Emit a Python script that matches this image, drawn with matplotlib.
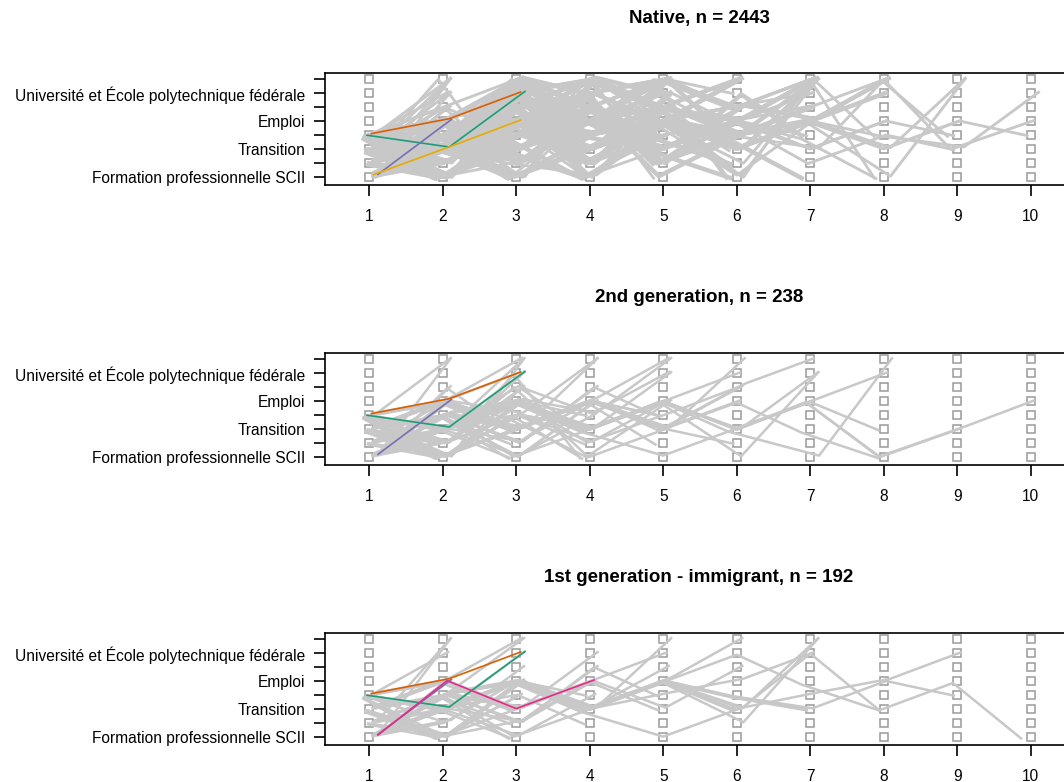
import matplotlib
matplotlib.use("Agg")
import matplotlib.pyplot as plt
import numpy as np

plt.rcParams["font.family"] = ["Liberation Sans", "DejaVu Sans"]

# etats (du bas vers le haut), seuls 1 sur 2 sont etiquetes comme dans R
state_labels = ["Formation professionnelle SCII", "", "Transition", "",
                "Emploi", "", "Université et École polytechnique fédérale", ""]
positions = list(range(1, 11))

titles = ["Native, n = 2443", "2nd generation, n = 238",
          "1st generation - immigrant, n = 192"]

# sequences (DSS) : chaque chiffre = etat, avec la frequence (epaisseur)
native_seqs = [
    ("13", 4), ("14", 3), ("15", 3), ("12", 2), ("17", 1), ("18", 1),
    ("23", 2), ("24", 2), ("25", 2), ("21", 2), ("28", 1), ("26", 1),
    ("31", 3), ("32", 2), ("34", 2), ("35", 3), ("36", 1), ("37", 1), ("38", 1),
    ("41", 2), ("42", 1), ("43", 3), ("45", 3), ("46", 1), ("47", 1), ("48", 1),
    ("135", 4), ("137", 3), ("138", 3), ("131", 2), ("134", 2), ("145", 3),
    ("148", 2), ("153", 3), ("158", 2), ("143", 2), ("126", 2), ("162", 1),
    ("235", 2), ("238", 2), ("241", 2), ("247", 1), ("253", 2), ("218", 2),
    ("315", 3), ("318", 2), ("325", 2), ("341", 2), ("358", 2), ("357", 1), ("364", 1),
    ("415", 3), ("418", 2), ("438", 3), ("435", 2), ("457", 2), ("453", 2), ("468", 1),
    ("1353", 3), ("1354", 2), ("1358", 1), ("1384", 2), ("1431", 2), ("1535", 3),
    ("1538", 2), ("1485", 2), ("1376", 1), ("1282", 2), ("2173", 1), ("3816", 1),
    ("2358", 1), ("2414", 2), ("2536", 1), ("3135", 3), ("3158", 2), ("3541", 2),
    ("4138", 2), ("4353", 2), ("4531", 2), ("1468", 2), ("3426", 2), ("2147", 2),
    ("1387", 2), ("2386", 1), ("4286", 2), ("1378", 1), ("3287", 1), ("1482", 2),
    ("13535", 3), ("13548", 2), ("14353", 2), ("15354", 2), ("31536", 2),
    ("41358", 2), ("24135", 2), ("13182", 1), ("13572", 2), ("14586", 2),
    ("13627", 2), ("24681", 1), ("15263", 2), ("31746", 2), ("42857", 1),
    ("13846", 2), ("25714", 1), ("14736", 2), ("35182", 1), ("41627", 2),
    ("13264", 2), ("24375", 2), ("15748", 1), ("32615", 2), ("43168", 1),
    ("12543", 2), ("21436", 2), ("34725", 1), ("13524", 2), ("14257", 2),
    ("31427", 2), ("41526", 2), ("23654", 1), ("13456", 2), ("43215", 1),
    ("13878", 1), ("14387", 2), ("24768", 1), ("31868", 1), ("13786", 2), ("41378", 1),
    ("135358", 2), ("135354", 2), ("153535", 2), ("314354", 1), ("413531", 2), ("245356", 1),
    ("135724", 2), ("146258", 2), ("137462", 1), ("241368", 2), ("153826", 1),
    ("314725", 2), ("425163", 1), ("136284", 2), ("217435", 1), ("352614", 2),
    ("147352", 2), ("218463", 1), ("135642", 2), ("326175", 1),
    ("138581", 2), ("143868", 1), ("135786", 2), ("247386", 1), ("318687", 1),
    ("1353535", 2), ("1354538", 1), ("3153545", 2), ("4135354", 1), ("1353541", 2), ("2451357", 1),
    ("1357246", 2), ("1462538", 2), ("2135746", 1), ("3152648", 2), ("4125367", 1),
    ("1536274", 2), ("2413568", 1), ("1372546", 2), ("1426358", 2), ("3145268", 1),
    ("1358658", 2), ("1437568", 1), ("2138568", 1), ("1346868", 1), ("3184618", 1),
    ("13535358", 1), ("31535458", 1), ("14353541", 1), ("13545358", 1),
    ("13572658", 2), ("14635284", 1), ("24635181", 1), ("13526457", 2), ("31462535", 1),
    ("13586568", 1), ("14365158", 1),
    ("135353584", 1), ("141353535", 1), ("135353538", 1), ("135353518", 1),
    ("136245354", 1), ("142635243", 1),
    ("1353545354", 1), ("3153535437", 1), ("1453543835", 1),
]

second_seqs = [
    ("13", 2), ("14", 2), ("15", 2), ("23", 1), ("24", 2), ("31", 2), ("35", 2),
    ("34", 1), ("41", 1), ("43", 2), ("45", 2), ("18", 1), ("48", 1), ("12", 1), ("32", 1),
    ("21", 1), ("25", 1), ("42", 1), ("16", 1),
    ("135", 3), ("138", 1), ("145", 2), ("153", 2), ("241", 1), ("315", 2),
    ("357", 1), ("418", 1), ("435", 2), ("453", 2), ("137", 1), ("358", 1),
    ("126", 1), ("342", 1), ("214", 1), ("427", 1), ("163", 1),
    ("134", 1), ("231", 1), ("415", 1), ("325", 1), ("143", 1),
    ("1353", 2), ("1354", 1), ("1535", 2), ("3135", 2), ("4353", 1), ("2415", 1),
    ("1438", 1), ("3548", 1), ("1426", 1), ("3142", 1), ("2163", 1), ("4271", 1),
    ("1314", 1), ("2435", 1), ("4135", 1), ("3241", 1),
    ("13535", 2), ("14354", 1), ("15358", 1), ("31548", 1), ("43537", 1), ("24153", 1),
    ("13264", 1), ("14352", 1), ("31425", 1), ("42615", 1), ("12435", 1), ("13647", 1),
    ("14135", 1), ("31354", 1),
    ("135357", 1), ("153538", 1), ("413535", 1), ("354132", 1), ("142536", 1), ("315246", 1),
    ("1353517", 1), ("3153535", 1), ("1453137", 1), ("1425368", 1),
    ("13535318", 1), ("13535357", 1), ("13535353", 1), ("15353531", 1),
    ("135353513", 1), ("1353535135", 1),
]

first_seqs = [
    ("13", 2), ("14", 2), ("15", 1), ("24", 1), ("31", 2), ("35", 2), ("43", 2),
    ("45", 2), ("18", 1), ("28", 1), ("47", 1), ("12", 1), ("34", 1),
    ("21", 1), ("41", 1), ("23", 1),
    ("135", 2), ("145", 2), ("153", 2), ("315", 2), ("435", 2), ("453", 1),
    ("137", 1), ("148", 1), ("358", 1), ("241", 1), ("126", 1), ("342", 1), ("214", 1),
    ("134", 1), ("415", 1), ("231", 1),
    ("1353", 2), ("1535", 1), ("3135", 1), ("4354", 1), ("1437", 1), ("2453", 1),
    ("1426", 1), ("3142", 1), ("4125", 1), ("1314", 1), ("2435", 1),
    ("13535", 2), ("14353", 1), ("31538", 1), ("15357", 1), ("13264", 1), ("42536", 1),
    ("14135", 1),
    ("135358", 1), ("145313", 1), ("435353", 1), ("142536", 1),
    ("1353528", 1), ("1453538", 1), ("1353457", 1), ("3153543", 2),
    ("14535753", 1), ("135353457", 1), ("135354354", 1), ("1353537351", 1),
]

# sequences les plus frequentes, en couleur
native_top = [("437", "#1B9E77"), ("457", "#D95F02"), ("15", "#7570B3"), ("135", "#E6AB02")]
second_top = [("437", "#1B9E77"), ("457", "#D95F02"), ("15", "#7570B3")]
first_top = [("437", "#1B9E77"), ("457", "#D95F02"), ("15", "#7570B3"), ("1535", "#E7298A")]


def embed(seq):
    # decalage de chaque sommet selon les etats voisins
    s = [int(c) for c in seq]
    xs, ys = [], []
    for i, st in enumerate(s):
        p = s[i - 1] if i > 0 else st
        n = s[i + 1] if i < len(s) - 1 else st
        n2 = s[i + 2] if i < len(s) - 2 else n
        dy = (0.07 * np.clip(n - st, -3, 3) - 0.045 * np.clip(p - st, -3, 3)
              + 0.025 * np.clip(n2 - n, -3, 3))
        dx = 0.03 * np.clip(n - p, -4, 4)
        xs.append(i + 1 + dx)
        ys.append(st + dy)
    return xs, ys


fig = plt.figure(figsize=(10.64, 7.82), dpi=100)
W, H = 1064.0, 782.0
tops = [72.7, 352.7, 632.7]
title_y = [18, 298, 578]
panels = [(native_seqs, native_top), (second_seqs, second_top), (first_seqs, first_top)]
width_scale = [1.15, 0.9, 0.9]

for k in range(3):
    seqs, top = panels[k]
    ax = fig.add_axes([325 / W, 1 - (tops[k] + 112.3) / H, 750 / W, 112.3 / H])

    gx, gy = np.meshgrid(positions, range(1, 9))
    ax.plot(gx.ravel(), gy.ravel(), "s", ms=5.5, mfc="none", mec="#9a9a9a", mew=1.1, zorder=1)

    for seq, cnt in seqs:
        xs, ys = embed(seq)
        ax.plot(xs, ys, color="#c8c8c8", lw=0.9 + width_scale[k] * cnt,
                solid_capstyle="butt", zorder=2)
    for seq, col in top:
        xs, ys = embed(seq)
        ax.plot(xs, ys, color=col, lw=1.2, zorder=3)

    ax.set_xlim(0.4, 10.6)
    ax.set_ylim(0.45, 8.47)
    ax.set_xticks(positions)
    ax.set_yticks(range(1, 9))
    ax.set_yticklabels(state_labels)
    ax.tick_params(axis="both", length=8, width=1.2, labelsize=11.2, direction="out")
    ax.tick_params(axis="x", pad=9)
    ax.tick_params(axis="y", pad=6)
    for sp in ax.spines.values():
        sp.set_linewidth(1.2)
    fig.text(699 / W, 1 - title_y[k] / H, titles[k], ha="center", va="center",
             fontsize=13.5, fontweight="bold")

fig.savefig("out.png", dpi=100)
